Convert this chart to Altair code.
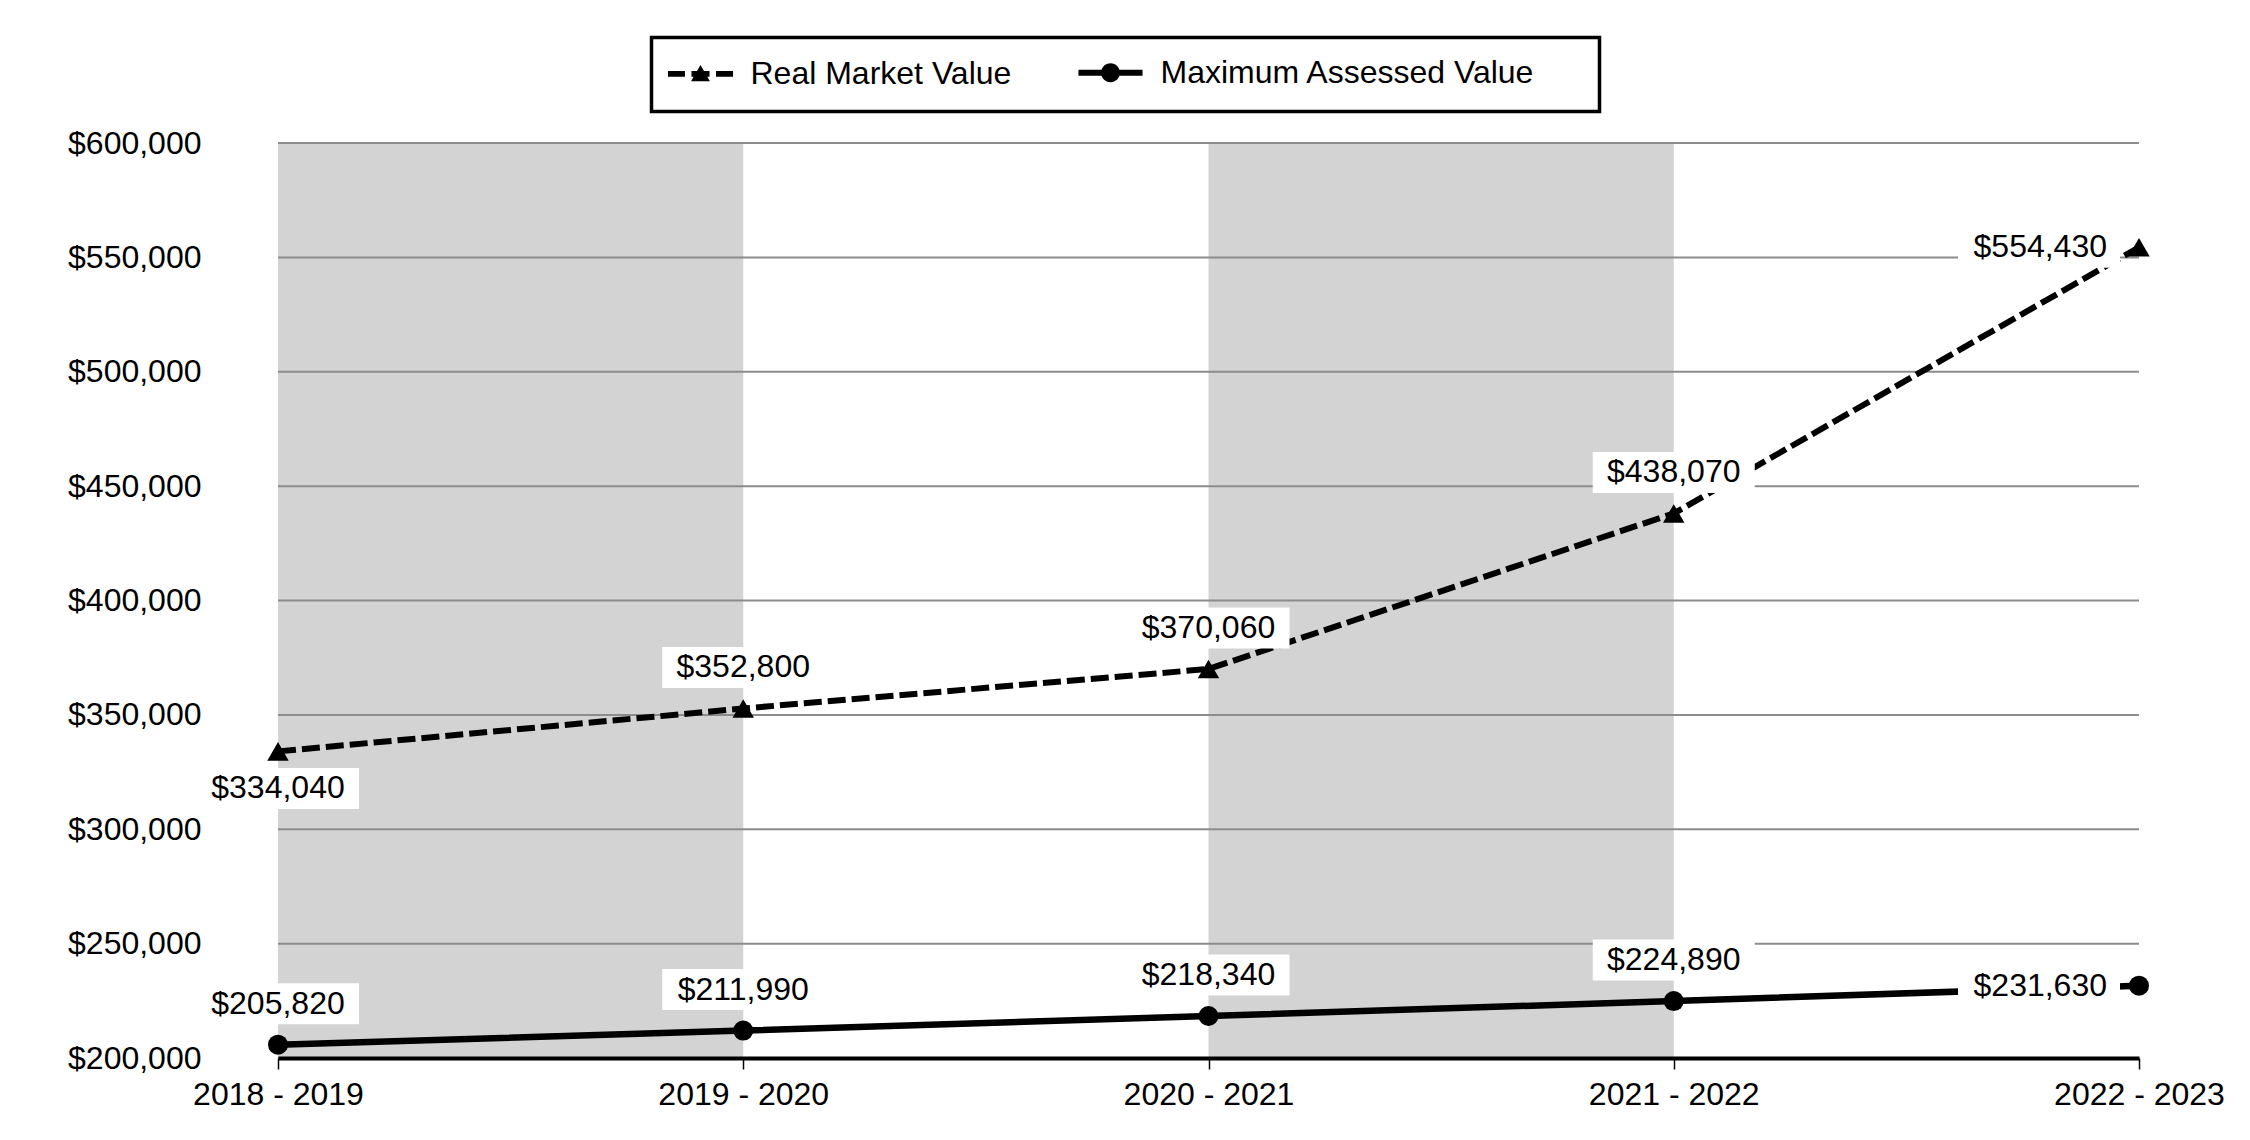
import json
import altair as alt
import pandas as pd

# ---- data ----
periods = ["2018 - 2019", "2019 - 2020", "2020 - 2021", "2021 - 2022", "2022 - 2023"]
real_market_value = [334040, 352800, 370060, 438070, 554430]
max_assessed_value = [205820, 211990, 218340, 224890, 231630]
series_names = ["Real Market Value", "Maximum Assessed Value"]
y_ticks = [200000, 250000, 300000, 350000, 400000, 450000, 500000, 550000, 600000]
shaded_periods = [("2018 - 2019", "2019 - 2020"), ("2020 - 2021", "2021 - 2022")]

FONT = "Liberation Sans"
W, H = 1861, 915

rows = []
for name, vals in zip(series_names, [real_market_value, max_assessed_value]):
    for i, (p, v) in enumerate(zip(periods, vals)):
        if i == len(periods) - 1:
            pos = "left"
        elif name == series_names[0] and i == 0:
            pos = "below"
        else:
            pos = "above"
        rows.append({"idx": i, "period": p, "series": name, "value": v, "pos": pos})
df = pd.DataFrame(rows)

bands = pd.DataFrame(
    [{"start": periods.index(a), "end": periods.index(b)} for a, b in shaded_periods]
)
grid = pd.DataFrame({"tick": y_ticks})

x_scale = alt.Scale(domain=[0, len(periods) - 1], nice=False, zero=False)
y_scale = alt.Scale(domain=[y_ticks[0], y_ticks[-1]], nice=False, zero=False)

x_axis = alt.Axis(
    values=list(range(len(periods))),
    labelExpr=json.dumps(periods) + "[datum.value]",
    title=None, grid=False,
    domainColor="black", domainWidth=4,
    tickColor="black", tickWidth=1.5, tickSize=11,
    labelPadding=10, labelFont=FONT, labelFontSize=32, labelColor="black",
    labelFlush=False, labelOverlap=False, zindex=1,
)
y_axis = alt.Axis(
    values=y_ticks, format="$,.0f", title=None, grid=False,
    domain=False, ticks=False, labelPadding=77,
    labelFont=FONT, labelFontSize=32, labelColor="black",
)

X = alt.X("idx:Q", scale=x_scale, axis=x_axis)
Y = alt.Y("value:Q", scale=y_scale, axis=y_axis)

band_layer = alt.Chart(bands).mark_rect(color="#d3d3d3").encode(
    x=alt.X("start:Q", scale=x_scale, axis=x_axis),
    x2="end:Q",
)

grid_layer = alt.Chart(grid).mark_rule(color="#8c8c8c", strokeWidth=2).encode(
    y=alt.Y("tick:Q", scale=y_scale, axis=y_axis)
)

base = alt.Chart(df)
rmv = base.transform_filter(alt.datum.series == series_names[0])
mav = base.transform_filter(alt.datum.series == series_names[1])

line_rmv = rmv.mark_line(color="black", strokeWidth=6, strokeDash=[18, 6]).encode(x=X, y=Y)
line_mav = mav.mark_line(color="black", strokeWidth=6.5).encode(x=X, y=Y)

BOX = "M-1,-0.253H1V0.253H-1Z"
offsets = {
    "above": dict(box=dict(yOffset=-41), text=dict(dy=-41, align="center")),
    "below": dict(box=dict(yOffset=37), text=dict(dy=37, align="center")),
    "left": dict(box=dict(xOffset=-100), text=dict(dx=-32, align="right")),
}
label_layers = []
for pos, o in offsets.items():
    sub = base.transform_filter(alt.datum.pos == pos)
    label_layers.append(
        sub.mark_point(shape=BOX, size=26244, filled=True, fill="white",
                       opacity=1, strokeWidth=0, **o["box"]).encode(x=X, y=Y)
    )
for pos, o in offsets.items():
    sub = base.transform_filter(alt.datum.pos == pos)
    label_layers.append(
        sub.mark_text(font=FONT, fontSize=32, color="black", baseline="middle",
                      **o["text"]).encode(
            x=X, y=Y, text=alt.Text("value:Q", format="$,.0f"))
    )

pts_rmv = rmv.mark_point(shape="triangle-up", size=460, filled=True,
                         color="black", opacity=1).encode(x=X, y=Y)
pts_mav = mav.mark_point(shape="circle", size=400, filled=True,
                         color="black", opacity=1).encode(x=X, y=Y)

# legend symbols: line + marker drawn as filled custom paths (all clockwise);
# the last entry carries an empty sub-path that widens the legend frame
sym_rmv = ("M-3.1,-0.28H-1.48V0.28H-3.1Z"
           "M-0.86,-0.28H0.86V0.28H-0.86Z"
           "M1.48,-0.28H3.1V0.28H1.48Z"
           "M0,-0.85L0.9,0.7L-0.9,0.7Z")
sym_mav = ("M-3.05,-0.29H3.05V0.29H-3.05Z"
           "M-0.9,0A0.9,0.9,0,1,1,0.9,0A0.9,0.9,0,1,1,-0.9,0Z"
           "M43.8,0h0")

legend_layer = base.transform_filter("false").mark_point(
    filled=True, size=441, color="black", opacity=1
).encode(
    x=X, y=Y,
    shape=alt.Shape(
        "series:N",
        scale=alt.Scale(domain=series_names, range=[sym_rmv, sym_mav]),
        legend=alt.Legend(
            title=None,
            orient="none", legendX=373.5, legendY=-105.5,
            direction="horizontal",
            labelFont=FONT, labelFontSize=32, labelColor="black", labelLimit=1000,
            symbolSize=441, symbolStrokeWidth=5, symbolFillColor="black",
            symbolOpacity=1,
            padding=19, symbolOffset=14, labelOffset=34, columnPadding=56,
            strokeColor="black",
        ),
    ),
)

chart = alt.layer(
    band_layer, grid_layer, line_rmv, line_mav, *label_layers, pts_rmv, pts_mav, legend_layer
).properties(
    width=W, height=H,
    padding={"left": 59, "top": 27, "right": 0, "bottom": 0},
    background="white",
).configure_view(stroke=None).configure_legend(strokeWidth=3.5)

chart.save("out.html", embed_options={"renderer": "svg", "actions": False})
